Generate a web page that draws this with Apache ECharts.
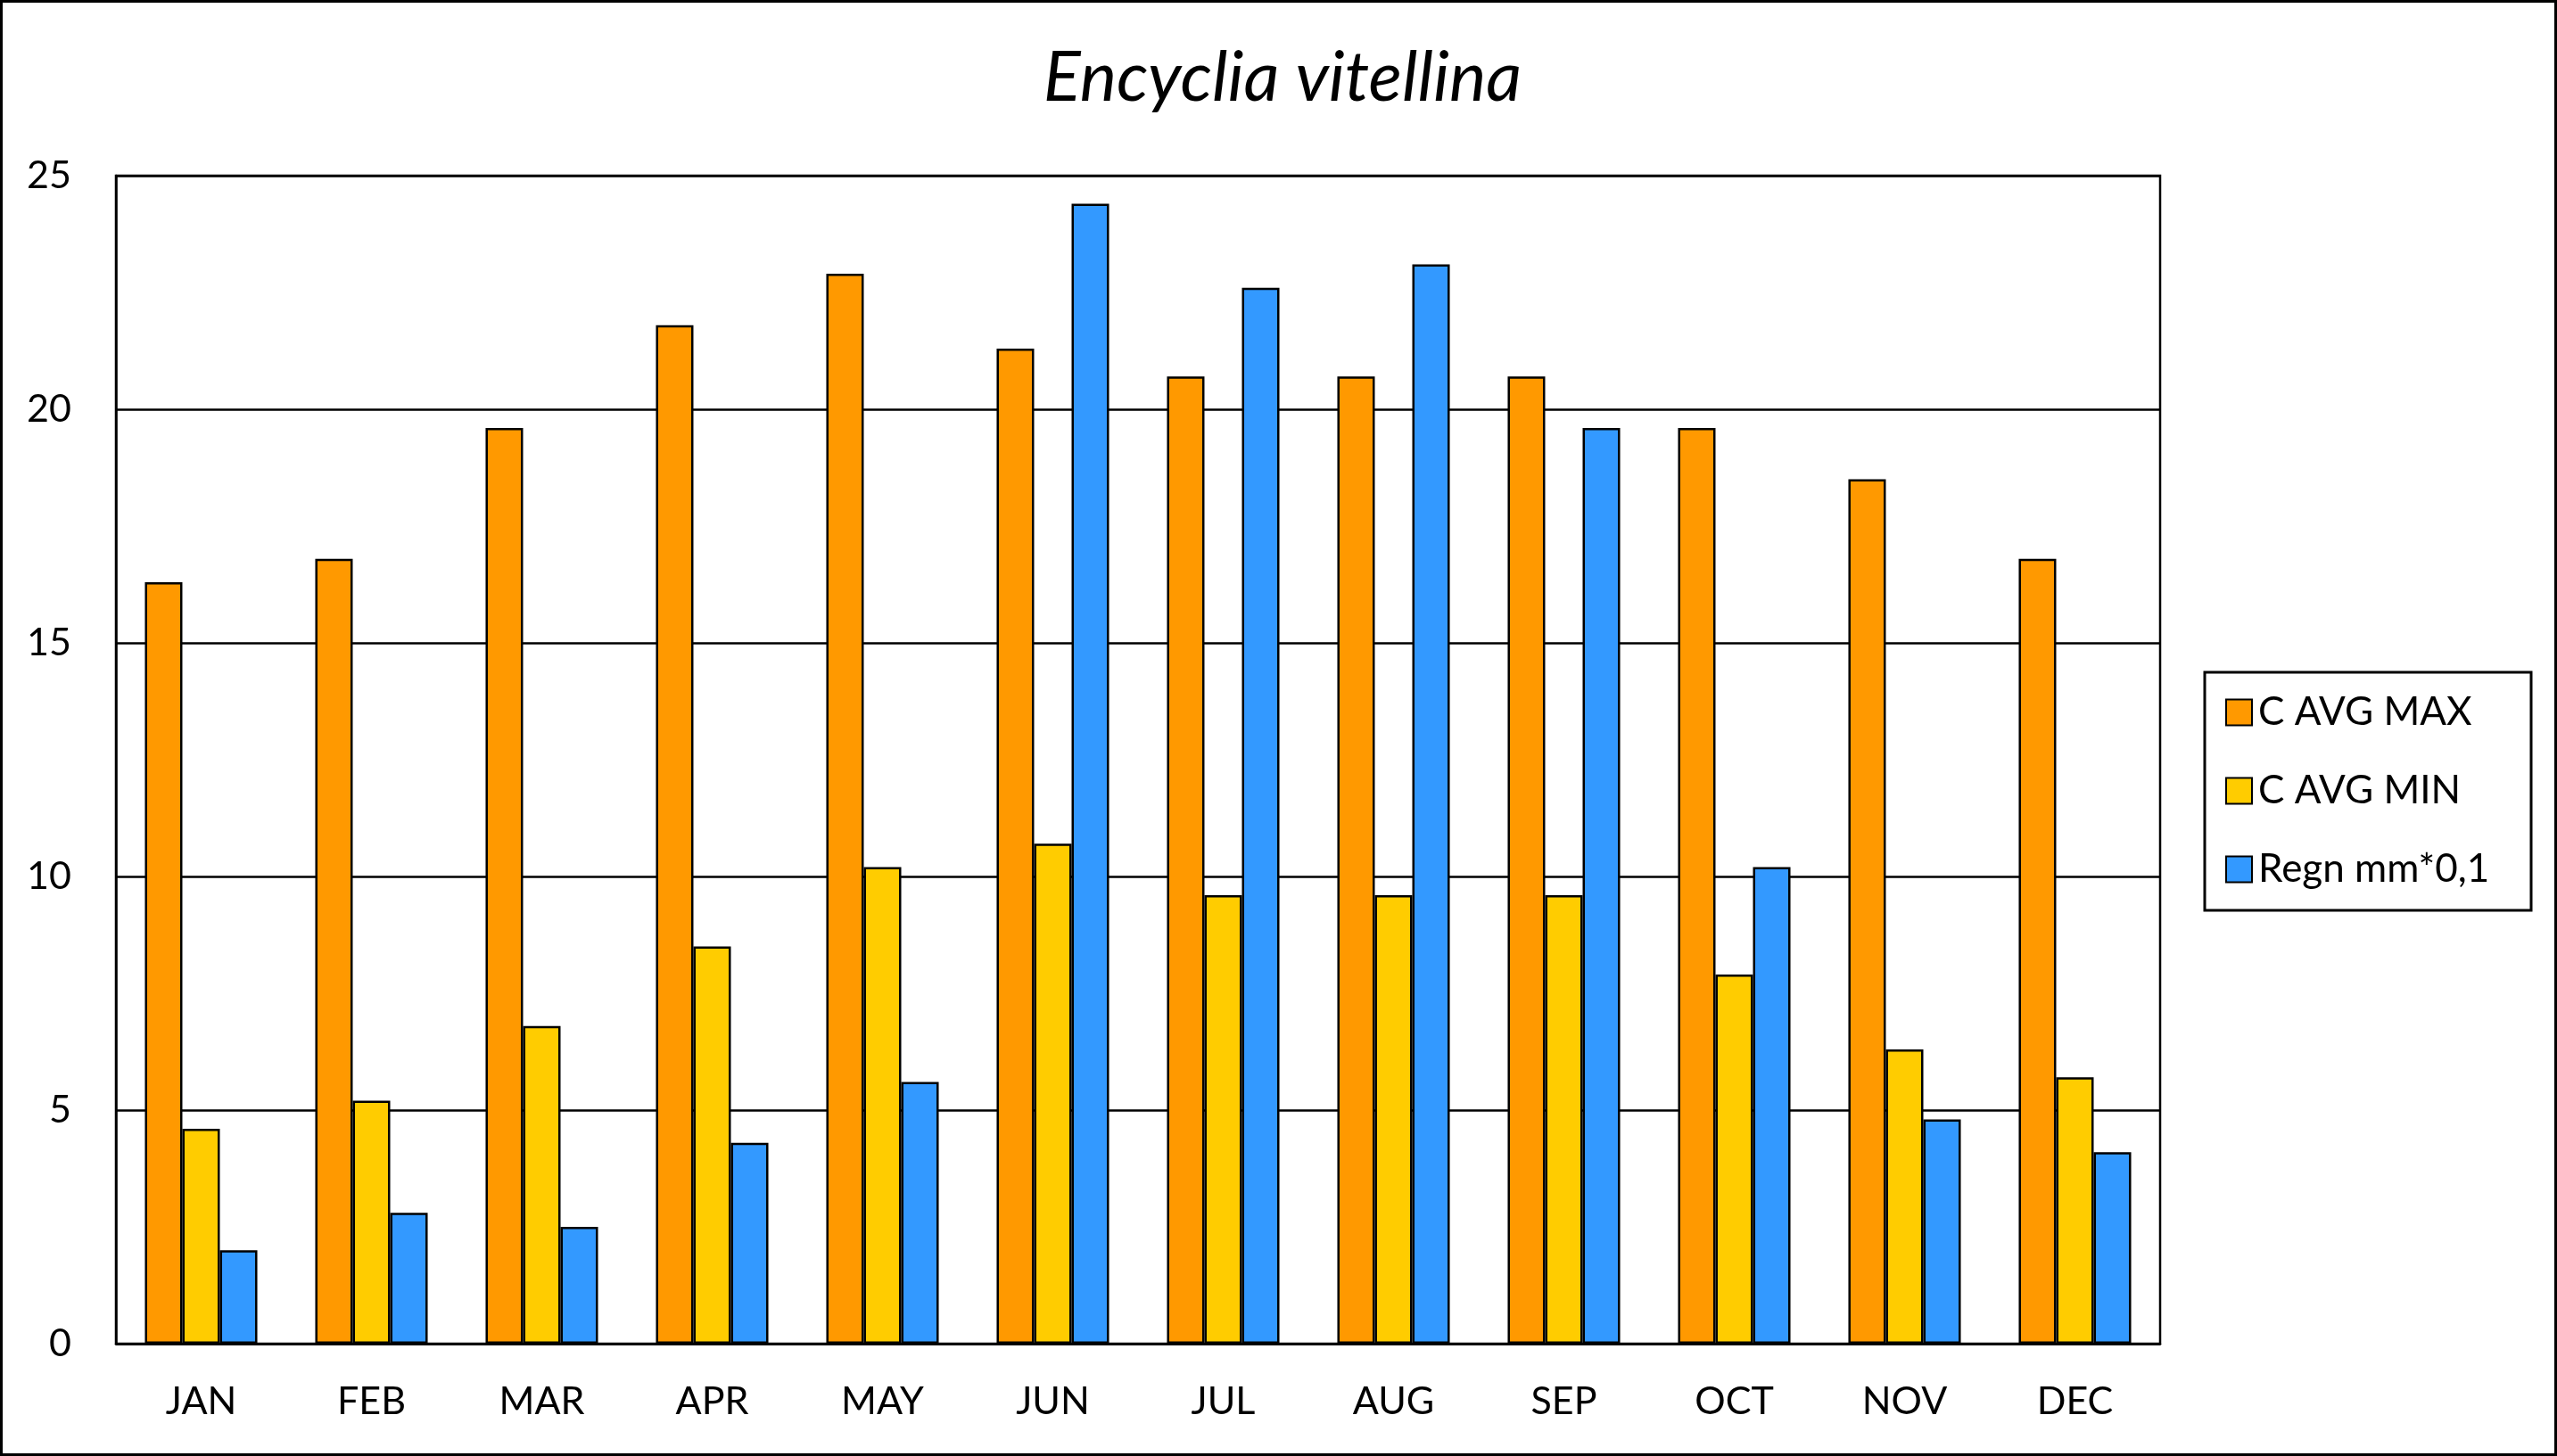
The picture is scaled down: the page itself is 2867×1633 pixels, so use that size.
<!DOCTYPE html>
<html>
<head>
<meta charset="utf-8">
<script src="https://cdn.jsdelivr.net/npm/echarts@6/dist/echarts.min.js"></script>
<style>
html,body{margin:0;padding:0;background:#fff;}
#c{width:2867px;height:1633px;}
</style>
</head>
<body>
<div id="c"></div>
<script>
const months = ['JAN','FEB','MAR','APR','MAY','JUN','JUL','AUG','SEP','OCT','NOV','DEC'];
const avgMax = [16.3, 16.8, 19.6, 21.8, 22.9, 21.3, 20.7, 20.7, 20.7, 19.6, 18.5, 16.8];
const avgMin = [4.6, 5.2, 6.8, 8.5, 10.2, 10.7, 9.6, 9.6, 9.6, 7.9, 6.3, 5.7];
const regn = [2.0, 2.8, 2.5, 4.3, 5.6, 24.4, 22.6, 23.1, 19.6, 10.2, 4.8, 4.1];
const seriesNames = ['C AVG MAX', 'C AVG MIN', 'Regn mm*0,1'];
const yTicks = {min: 0, max: 25, interval: 5};

const FONT = 'Lato';
const colors = ['#FF9900', '#FFCC00', '#3399FF'];
const chart = echarts.init(document.getElementById('c'), null, {renderer: 'canvas'});

function bar(name, data, color) {
  return {
    name: name, type: 'bar', data: data,
    barGap: '0%', barCategoryGap: '34%',
    itemStyle: {color: color, borderColor: '#000', borderWidth: 2.5},
    emphasis: {disabled: true}
  };
}

chart.setOption({
  animation: false,
  backgroundColor: '#fff',
  title: {
    text: 'Encyclia vitellina',
    left: 1433, top: 44, textAlign: 'center',
    textStyle: {fontFamily: FONT, fontStyle: 'italic', fontWeight: 'normal', fontSize: 78, color: '#000'}
  },
  grid: {
    left: 130, right: 445, top: 197, bottom: 126,
    show: true, borderColor: '#000', borderWidth: 2.5, backgroundColor: 'transparent'
  },
  legend: {
    orient: 'vertical', left: 2495, top: 777,
    itemWidth: 29, itemHeight: 29, itemGap: 44,
    icon: 'rect',
    padding: 0,
    textStyle: {fontFamily: FONT, fontSize: 44, color: '#000', lineHeight: 44, padding: [0,0,0,2]},
    data: seriesNames
  },
  xAxis: {
    type: 'category', data: months,
    axisLine: {show: true, lineStyle: {color: '#000', width: 2.5}},
    axisTick: {show: false},
    axisLabel: {fontFamily: FONT, fontSize: 43, color: '#000', margin: 44},
    splitLine: {show: false}
  },
  yAxis: {
    type: 'value', min: yTicks.min, max: yTicks.max, interval: yTicks.interval,
    axisLine: {show: true, lineStyle: {color: '#000', width: 2.5}},
    axisTick: {show: false},
    axisLabel: {fontFamily: FONT, fontSize: 43, color: '#000', margin: 50},
    splitLine: {show: true, lineStyle: {color: '#000', width: 2.5}}
  },
  series: [
    bar(seriesNames[0], avgMax, colors[0]),
    bar(seriesNames[1], avgMin, colors[1]),
    bar(seriesNames[2], regn, colors[2])
  ],
  graphic: [
    {type: 'rect', silent: true, z: 100,
     shape: {x: 1.5, y: 1.5, width: 2864, height: 1630},
     style: {fill: null, stroke: '#000', lineWidth: 3}},
    {type: 'rect', silent: true, z: 100,
     shape: {x: 2472, y: 754, width: 366, height: 267},
     style: {fill: null, stroke: '#000', lineWidth: 3}}
  ]
});
</script>
</body>
</html>
